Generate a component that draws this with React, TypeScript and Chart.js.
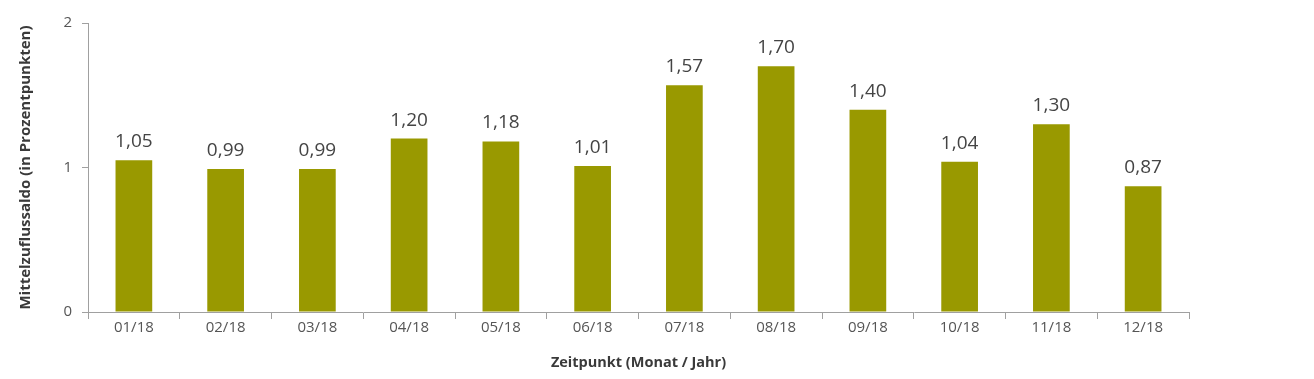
import React, { useEffect, useRef } from "react";
import { Chart, registerables } from "chart.js";

Chart.register(...registerables);

const categories = ["01/18", "02/18", "03/18", "04/18", "05/18", "06/18", "07/18", "08/18", "09/18", "10/18", "11/18", "12/18"];
const values = [1.05, 0.99, 0.99, 1.2, 1.18, 1.01, 1.57, 1.7, 1.4, 1.04, 1.3, 0.87];
const yTicks = [0, 1, 2];

const barColor = "#999900";
const textColor = "#555555";
const axisColor = "#a0a0a0";
const fontFamily = "'Open Sans', 'Noto Sans', sans-serif";

const valueLabels = {
  id: "valueLabels",
  afterDatasetsDraw(chart: any) {
    const ctx = chart.ctx;
    const meta = chart.getDatasetMeta(0);
    ctx.save();
    ctx.font = `19px ${fontFamily}`;
    ctx.fillStyle = "#444444";
    ctx.textAlign = "center";
    ctx.textBaseline = "alphabetic";
    meta.data.forEach((bar: any, i: number) => {
      const v = chart.data.datasets[0].data[i] as number;
      ctx.fillText(v.toFixed(2).replace(".", ","), bar.x, bar.y - 13);
    });
    ctx.restore();
  },
};

export default function App() {
  const ref = useRef<HTMLCanvasElement | null>(null);
  useEffect(() => {
    document.body.style.margin = "0";
    const chart = new Chart(ref.current as HTMLCanvasElement, {
      type: "bar",
      data: {
        labels: categories,
        datasets: [
          {
            data: values,
            backgroundColor: barColor,
            barPercentage: 0.4,
            categoryPercentage: 1,
          },
        ],
      },
      plugins: [valueLabels],
      options: {
        animation: false,
        responsive: false,
        maintainAspectRatio: false,
        layout: { padding: { left: 0, right: 125, top: 23, bottom: 0 } },
        plugins: { legend: { display: false }, tooltip: { enabled: false } },
        scales: {
          x: {
            afterFit: (s: any) => {
              s.height = 67;
            },
            grid: { offset: true, drawOnChartArea: false, tickLength: 7, color: axisColor },
            border: { color: axisColor },
            ticks: { color: textColor, font: { family: fontFamily, size: 15 }, padding: 0 },
            title: {
              display: true,
              text: "Zeitpunkt (Monat / Jahr)",
              color: "#3a3a3a",
              font: { family: fontFamily, size: 14.5, weight: "bold" },
              padding: { top: 0, bottom: 7 },
            },
          },
          y: {
            min: 0,
            max: 2,
            afterFit: (s: any) => {
              s.width = 88;
            },
            afterBuildTicks: (s: any) => {
              s.ticks = yTicks.map((v) => ({ value: v }));
            },
            grid: { drawOnChartArea: false, tickLength: 6, color: axisColor },
            border: { color: axisColor },
            ticks: { color: textColor, font: { family: fontFamily, size: 15 }, padding: 10 },
            title: {
              display: true,
              text: "Mittelzuflussaldo (in Prozentpunkten)",
              color: "#3a3a3a",
              font: { family: fontFamily, size: 15, weight: "bold" },
              padding: { top: 17, bottom: 0 },
            },
          },
        },
      },
    });
    return () => chart.destroy();
  }, []);
  return (
    <div style={{ width: 1314, height: 379, position: "relative" }}>
      <canvas ref={ref} width={1314} height={379} />
    </div>
  );
}
